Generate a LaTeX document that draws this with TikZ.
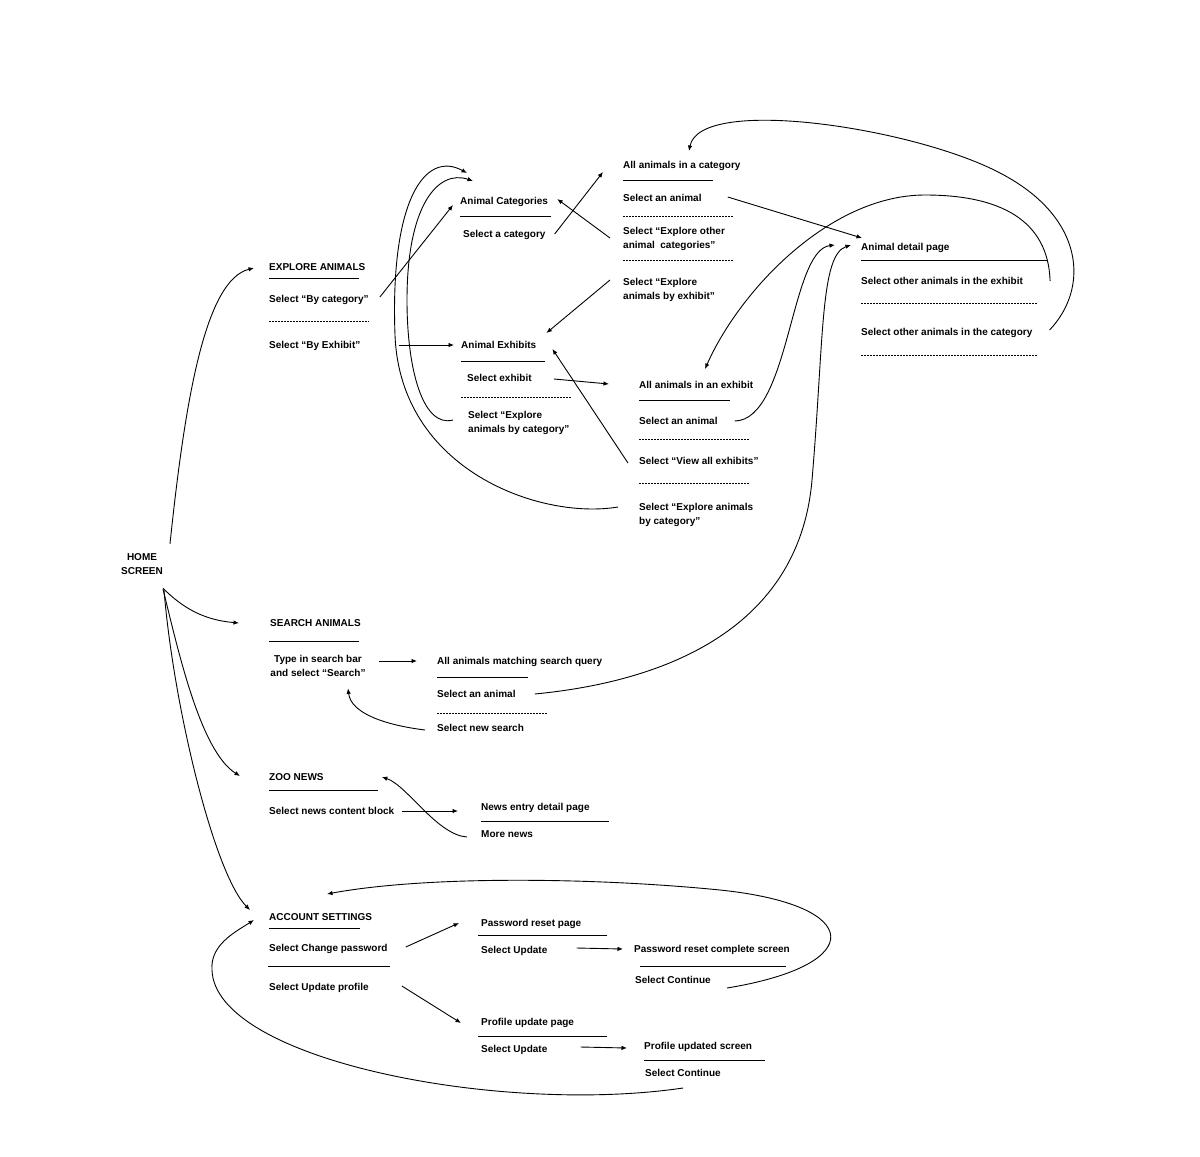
\documentclass[tikz,border=0pt]{standalone}
\usepackage{fontspec}
\setmainfont{Liberation Sans}
\usetikzlibrary{calc,arrows.meta}

\tikzset{
  >={Latex[length=5.5pt,width=4.5pt]},
  txt/.style={anchor=west, inner sep=0pt, text height=7pt, text depth=0pt, font=\bfseries\fontsize{10}{14}\selectfont},
  txtii/.style={anchor=west, inner sep=0pt, align=left, font=\bfseries\fontsize{10}{14}\selectfont},
  solidrule/.style={line width=1pt},
  dotrule/.style={line width=0.9pt, dash pattern=on 1.5pt off 1.5pt},
  link/.style={->, line width=0.9pt},
}

\begin{document}
\begin{tikzpicture}[x=1pt,y=-1pt]

    \useasboundingbox (0,0) rectangle (1200,1157);
    \fill[white] (0,0) rectangle (1200,1157);

    \node[inner sep=0pt, align=center, font=\bfseries\fontsize{10}{14}\selectfont] (home) at (142,564.5) {HOME\\SCREEN};

    % explore animals
    \node[txt] (explore) at (269,267) {EXPLORE ANIMALS};
    \node[txt] (bycat) at (269,299) {Select “By category”};
    \node[txt] (byexh) at (269,345) {Select “By Exhibit”};
    \draw[solidrule] (269,278) -- (359,278);
    \draw[dotrule] (269,321) -- (369,321);

    \node[txt] (cats) at (460,201) {Animal Categories};
    \node[txt] (selcat) at (463,234) {Select a category};
    \draw[solidrule] (460,216) -- (551,216);

    \node[txt] (exhs) at (461,345) {Animal Exhibits};
    \node[txt] (selexh) at (467,378) {Select exhibit};
    \node[txtii] (exhtocat) at (468,423) {Select “Explore\\animals by category”};
    \draw[solidrule] (461,361) -- (545,361);
    \draw[dotrule] (461,397) -- (571,397);

    \node[txt] (incat) at (623,165) {All animals in a category};
    \node[txt] (catanimal) at (623,198) {Select an animal};
    \node[txtii] (othercats) at (623,239) {Select “Explore other\\animal~ categories”};
    \node[txtii] (catexh) at (623,289.5) {Select “Explore\\animals by exhibit”};
    \draw[solidrule] (623,180) -- (713,180);
    \draw[dotrule] (623,216) -- (733,216);
    \draw[dotrule] (623,260) -- (733,260);

    \node[txt] (detail) at (861,247) {Animal detail page};
    \node[txt] (otherexh) at (861,281) {Select other animals in the exhibit};
    \node[txt] (othercat) at (861,332) {Select other animals in the category};
    \draw[solidrule] (861,260) -- (1048,260);
    \draw[dotrule] (861,303) -- (1037,303);
    \draw[dotrule] (861,355) -- (1037,355);

    \node[txt] (inexh) at (639,385) {All animals in an exhibit};
    \node[txt] (exhanimal) at (639,421) {Select an animal};
    \node[txt] (allexh) at (639,461) {Select “View all exhibits”};
    \node[txtii] (exhcat) at (639,514.5) {Select “Explore animals\\by category”};
    \draw[solidrule] (639,400) -- (730,400);
    \draw[dotrule] (639,439) -- (750,439);
    \draw[dotrule] (639,483) -- (750,483);

    % search animals
    \node[txt] (search) at (270,623) {SEARCH ANIMALS};
    \node[inner sep=0pt, align=center, font=\bfseries\fontsize{10}{14}\selectfont] (query) at (318,665.5) {Type in search bar\\and select “Search”};
    \draw[solidrule] (269,641) -- (359,641);

    \node[txt] (results) at (437,661) {All animals matching search query};
    \node[txt] (resanimal) at (437,694) {Select an animal};
    \node[txt] (newsearch) at (437,728) {Select new search};
    \draw[solidrule] (437,677) -- (528,677);
    \draw[dotrule] (437,713) -- (548,713);

    % zoo news
    \node[txt] (news) at (269,777) {ZOO NEWS};
    \node[txt] (block) at (269,811) {Select news content block};
    \draw[solidrule] (269,790) -- (378,790);
    \node[txt] (entry) at (481,807) {News entry detail page};
    \node[txt] (more) at (481,834) {More news};
    \draw[solidrule] (481,821) -- (609,821);

    % account settings
    \node[txt] (account) at (269,917) {ACCOUNT SETTINGS};
    \node[txt] (chpw) at (269,948) {Select Change password};
    \node[txt] (updprof) at (269,987) {Select Update profile};
    \draw[solidrule] (269,928) -- (360,928);
    \draw[solidrule] (268,966) -- (390,966);

    \node[txt] (pwpage) at (481,923) {Password reset page};
    \node[txt] (pwupd) at (481,950) {Select Update};
    \draw[solidrule] (478,935) -- (607,935);
    \node[txt] (pwdone) at (634,949) {Password reset complete screen};
    \node[txt] (pwcont) at (635,980) {Select Continue};
    \draw[solidrule] (640,966) -- (786,966);

    \node[txt] (profpage) at (481,1022) {Profile update page};
    \node[txt] (profupd) at (481,1049) {Select Update};
    \draw[solidrule] (478,1036) -- (607,1036);
    \node[txt] (profdone) at (644,1046) {Profile updated screen};
    \node[txt] (profcont) at (645,1073) {Select Continue};
    \draw[solidrule] (644,1060) -- (765,1060);

    % connectors
    \draw[link] ($(home.north)+(28,-10)$) .. controls +(15,-143) and +(-49,12) .. ($(explore.west)+(-15,1)$);
    \draw[link] ($(home.south)+(21,13)$) .. controls +(20,20) and +(-35,-3) .. ($(search.west)+(-31,0)$);
    \draw[link] ($(home.south)+(21,14)$) .. controls +(15,60) and +(-40,-25) .. ($(news.west)+(-29,-1)$);
    \draw[link] ($(home.south)+(22,15)$) .. controls +(10,120) and +(-35,-35) .. ($(account.west)+(-19,-7)$);

    \draw[link] ($(bycat.east)+(11,-2)$) -- ($(cats.west)+(-7,4)$);
    \draw[link] ($(byexh.east)+(38,0)$) -- ($(exhs.west)+(-7,0)$);
    \draw[link] ($(selcat.east)+(9,0)$) -- ($(incat.west)+(-20,7)$);
    \draw[link] ($(othercats.west)+(-13,-1)$) -- ($(cats.east)+(9,-2)$);
    \draw[link] ($(catexh.west)+(-13,-9.5)$) -- ($(exhs.east)+(10,-12)$);
    \draw[link] ($(catanimal.east)+(26,-1)$) -- ($(detail.west)+(1,-9)$);
    \draw[link] ($(selexh.east)+(22,1)$) -- ($(inexh.west)+(-30,-1)$);
    \draw[link] ($(allexh.west)+(-11,2)$) -- ($(exhs.east)+(16,4)$);
    \draw[link] ($(exhtocat.west)+(-15,-3)$) .. controls +(-30,8) and +(0,70) .. (407,300) .. controls +(0,-95) and +(-35,-12) .. ($(cats.west)+(13,-20)$);
    \draw[link] ($(exhcat.west)+(-21,-7.5)$) .. controls +(-78,13) and +(5,135) .. (395,335) .. controls +(-5,-135) and +(-42,-23) .. ($(cats.west)+(7,-28)$);
    \draw[link] ($(exhanimal.east)+(17,0)$) .. controls +(55,-1) and +(-45,5) .. ($(detail.west)+(-26,-2)$);
    \draw[link] ($(resanimal.east)+(19,0)$) .. controls +(145,-14) and +(-12,140) .. (812,480) .. controls +(12,-140) and +(-31,10) .. ($(detail.west)+(-10,-2)$);
    \draw[link] ($(otherexh.east)+(27,0)$) .. controls +(-2,-61) and +(75,0) .. (925,195) .. controls +(-95,0) and +(35,-79) .. ($(inexh.west)+(66,-16)$);
    \draw[link] ($(othercat.east)+(17,-2)$) .. controls +(40,-42) and +(85,44) .. (1000,173) .. controls +(-85,-45) and +(11,-56) .. ($(incat.west)+(66,-14)$);

    \draw[link] ($(query.east)+(13,-4.5)$) -- ($(results.west)+(-20,0)$);
    \draw[link] ($(newsearch.west)+(-12,2)$) .. controls +(-40,-5) and +(3,25) .. ($(query.south)+(30,12)$);

    \draw[link] ($(block.east)+(8,0)$) -- ($(entry.west)+(-23,4)$);
    \draw[link] ($(more.west)+(-14,3)$) .. controls +(-30,-2) and +(25,8) .. ($(news.east)+(58,0)$);

    \draw[link] ($(chpw.east)+(18,-1)$) -- ($(pwpage.west)+(-22,0)$);
    \draw[link] ($(updprof.east)+(33,-1)$) -- ($(profpage.west)+(-20,1)$);
    \draw[link] ($(pwupd.east)+(29,-2)$) -- ($(pwdone.west)+(-11,0)$);
    \draw[link] ($(profupd.east)+(33,-2)$) -- ($(profdone.west)+(-17,2)$);
    \draw[link] ($(pwcont.east)+(16,8)$) .. controls +(141,-23) and +(145,15) .. (720,890) .. controls +(-120,-12) and +(103,-19) .. ($(account.west)+(58,-23)$);
    \draw[link] ($(profcont.west)+(38,15)$) .. controls +(-183,27) and +(3,90) .. (212,970) .. controls +(-2,-25) and +(-19,12) .. ($(account.west)+(-15,3)$);

\end{tikzpicture}
\end{document}
